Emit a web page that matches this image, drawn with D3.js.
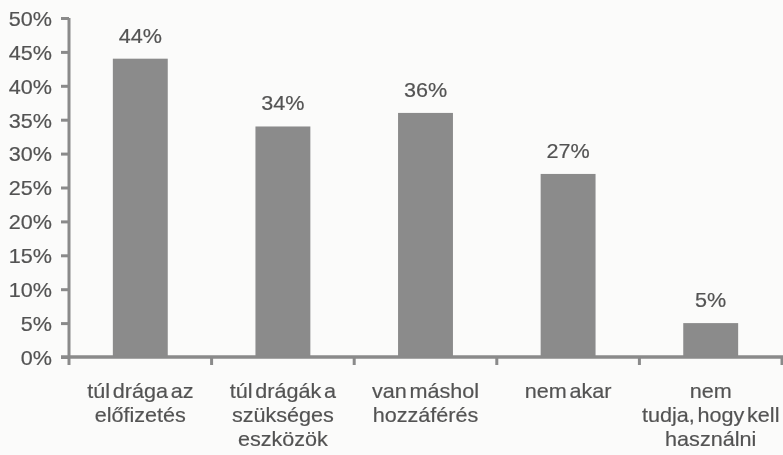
<!DOCTYPE html>
<html>
<head>
<meta charset="utf-8">
<script src="https://cdn.jsdelivr.net/npm/d3@7/dist/d3.min.js"></script>
<style>
  html, body { margin: 0; padding: 0; background: #fbfbfa; }
  svg { display: block; }
  text { font-family: "Liberation Sans", Arial, sans-serif; fill: #525252; stroke: #5a5a5a; stroke-width: 0.2px; }
</style>
</head>
<body>
<svg id="chart" width="783" height="455"></svg>
<script>
// Reasons for not having internet access (share of respondents, %)
const categories = [
  ["túl drága az", "előfizetés"],
  ["túl drágák a", "szükséges", "eszközök"],
  ["van máshol", "hozzáférés"],
  ["nem akar"],
  ["nem", "tudja, hogy kell", "használni"]
];
const values = [44, 34, 36, 27, 5];
const yTicks = [0, 5, 10, 15, 20, 25, 30, 35, 40, 45, 50];

const svg = d3.select("#chart");
const W = 783, H = 455;
const margin = { left: 69, right: 1, top: 18, bottom: 99 };
const axisColor = "#8a8a8a";
const barColor = "#8b8b8b";
const fontSize = "20px";
const stretch = "scale(1.08,1)";

svg.append("rect").attr("width", W).attr("height", H).attr("fill", "#fbfbfa");

// slight softness like printed output
const defs = svg.append("defs");
defs.append("filter").attr("id", "soft")
  .append("feGaussianBlur").attr("stdDeviation", 0.35);

const keys = categories.map((c, i) => i);
const x = d3.scaleBand()
  .domain(keys)
  .range([margin.left, W - margin.right])
  .paddingInner(0.615)
  .paddingOuter(0.3075);

const y = d3.scaleLinear()
  .domain([0, 50])
  .range([H - margin.bottom + 1, margin.top]);

const g = svg.append("g").attr("filter", "url(#soft)");

// bars
g.selectAll("rect.bar")
  .data(values)
  .join("rect")
  .attr("class", "bar")
  .attr("x", (d, i) => x(i))
  .attr("width", x.bandwidth())
  .attr("y", d => y(d))
  .attr("height", d => y(0) - y(d))
  .attr("fill", barColor);

// value labels
g.selectAll("text.val")
  .data(values)
  .join("text")
  .attr("class", "val")
  .attr("transform", (d, i) => `translate(${x(i) + x.bandwidth() / 2},${y(d) - 16}) ${stretch}`)
  .attr("text-anchor", "middle")
  .style("font-size", fontSize)
  .text(d => d + "%");

// y axis
const yAxis = g.append("g")
  .attr("transform", `translate(${margin.left},0)`)
  .call(d3.axisLeft(y).tickValues(yTicks).tickFormat(d => d + "%").tickSize(8).tickPadding(0));
yAxis.select(".domain").attr("stroke", axisColor).attr("stroke-width", 3)
  .attr("d", `M0,${y(50)}V${y(0)}`);
yAxis.selectAll(".tick line").attr("stroke", axisColor).attr("stroke-width", 3);
yAxis.selectAll(".tick text")
  .attr("x", null).attr("dy", null)
  .attr("transform", `translate(-17,7.3) ${stretch}`)
  .attr("text-anchor", "end")
  .style("font-size", fontSize)
  .attr("fill", "#525252");

// x axis line and category separator ticks
const bounds = keys.map(k => x(k) + x.bandwidth() / 2 - x.step() / 2)
  .concat([x(keys[keys.length - 1]) + x.bandwidth() / 2 + x.step() / 2]);
g.append("line")
  .attr("x1", margin.left - 8).attr("x2", W)
  .attr("y1", y(0)).attr("y2", y(0))
  .attr("stroke", axisColor).attr("stroke-width", 3.5);
g.selectAll("line.xt")
  .data(bounds)
  .join("line")
  .attr("class", "xt")
  .attr("x1", d => d).attr("x2", d => d)
  .attr("y1", y(0)).attr("y2", y(0) + 8)
  .attr("stroke", axisColor).attr("stroke-width", 3);

// category labels
const cat = g.selectAll("g.cat")
  .data(categories)
  .join("g")
  .attr("class", "cat")
  .attr("transform", (d, i) => `translate(${x(i) + x.bandwidth() / 2},0)`);
cat.selectAll("text")
  .data(d => d)
  .join("text")
  .attr("transform", (d, j) => `translate(0,${y(0) + 41 + j * 24}) ${stretch}`)
  .attr("text-anchor", "middle")
  .style("font-size", fontSize)
  .style("word-spacing", "-3px")
  .text(d => d);
</script>
</body>
</html>
